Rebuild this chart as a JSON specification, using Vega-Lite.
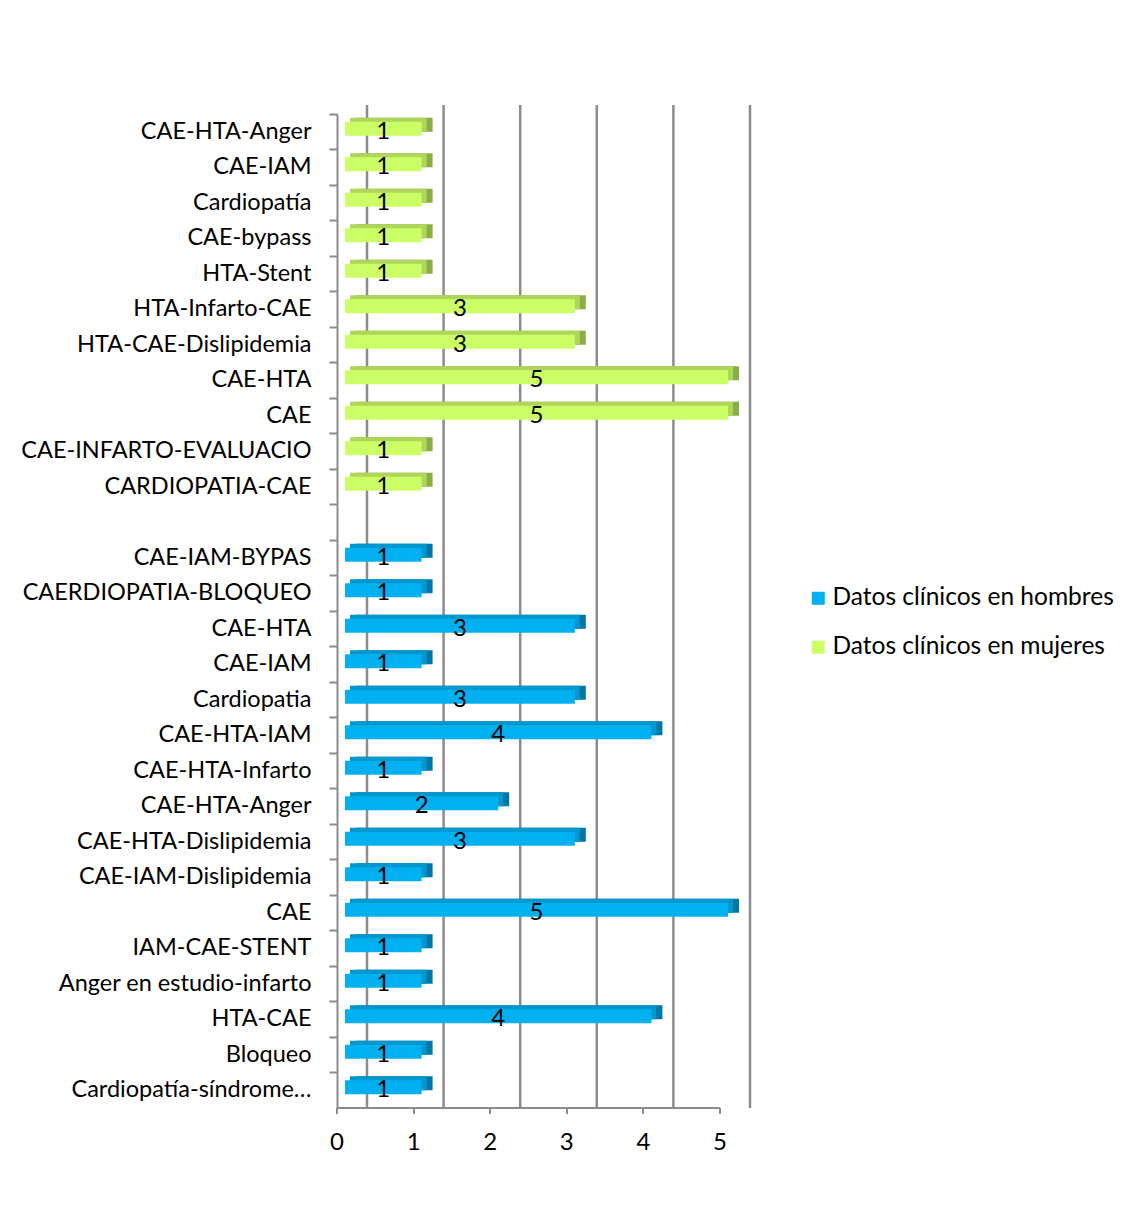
{
  "$schema": "https://vega.github.io/schema/vega-lite/v6.json",
  "width": 383,
  "height": 994,
  "autosize": {"type": "none"},
  "padding": {"left": 345, "top": 114, "right": 403, "bottom": 116},
  "background": "white",
  "config": {"view": {"stroke": null}, "font": "Lato"},
  "datasets": {
    "grid": [{"v": 0}, {"v": 1}, {"v": 2}, {"v": 3}, {"v": 4}, {"v": 5}]
  },
  "data": {
    "values": [
      {"cat": "m01|CAE-HTA-Anger", "group": "Datos clínicos en mujeres", "value": 1},
      {"cat": "m02|CAE-IAM", "group": "Datos clínicos en mujeres", "value": 1},
      {"cat": "m03|Cardiopatía", "group": "Datos clínicos en mujeres", "value": 1},
      {"cat": "m04|CAE-bypass", "group": "Datos clínicos en mujeres", "value": 1},
      {"cat": "m05|HTA-Stent", "group": "Datos clínicos en mujeres", "value": 1},
      {"cat": "m06|HTA-Infarto-CAE", "group": "Datos clínicos en mujeres", "value": 3},
      {"cat": "m07|HTA-CAE-Dislipidemia", "group": "Datos clínicos en mujeres", "value": 3},
      {"cat": "m08|CAE-HTA", "group": "Datos clínicos en mujeres", "value": 5},
      {"cat": "m09|CAE", "group": "Datos clínicos en mujeres", "value": 5},
      {"cat": "m10|CAE-INFARTO-EVALUACIO", "group": "Datos clínicos en mujeres", "value": 1},
      {"cat": "m11|CARDIOPATIA-CAE", "group": "Datos clínicos en mujeres", "value": 1},
      {"cat": "h01|CAE-IAM-BYPAS", "group": "Datos clínicos en hombres", "value": 1},
      {"cat": "h02|CAERDIOPATIA-BLOQUEO", "group": "Datos clínicos en hombres", "value": 1},
      {"cat": "h03|CAE-HTA", "group": "Datos clínicos en hombres", "value": 3},
      {"cat": "h04|CAE-IAM", "group": "Datos clínicos en hombres", "value": 1},
      {"cat": "h05|Cardiopatia", "group": "Datos clínicos en hombres", "value": 3},
      {"cat": "h06|CAE-HTA-IAM", "group": "Datos clínicos en hombres", "value": 4},
      {"cat": "h07|CAE-HTA-Infarto", "group": "Datos clínicos en hombres", "value": 1},
      {"cat": "h08|CAE-HTA-Anger", "group": "Datos clínicos en hombres", "value": 2},
      {"cat": "h09|CAE-HTA-Dislipidemia", "group": "Datos clínicos en hombres", "value": 3},
      {"cat": "h10|CAE-IAM-Dislipidemia", "group": "Datos clínicos en hombres", "value": 1},
      {"cat": "h11|CAE", "group": "Datos clínicos en hombres", "value": 5},
      {"cat": "h12|IAM-CAE-STENT", "group": "Datos clínicos en hombres", "value": 1},
      {"cat": "h13|Anger en estudio-infarto", "group": "Datos clínicos en hombres", "value": 1},
      {"cat": "h14|HTA-CAE", "group": "Datos clínicos en hombres", "value": 4},
      {"cat": "h15|Bloqueo", "group": "Datos clínicos en hombres", "value": 1},
      {"cat": "h16|Cardiopatía-síndrome…", "group": "Datos clínicos en hombres", "value": 1}
    ]
  },
  "resolve": {"scale": {"color": "independent"}},
  "layer": [
    {
      "data": {"name": "grid"},
      "mark": {"type": "rule", "color": "#8c8c8c", "strokeWidth": 2.5, "xOffset": 22, "yOffset": -9},
      "encoding": {
        "x": {"field": "v", "type": "quantitative", "scale": {"domain": [0, 5], "nice": false}}
      }
    },
    {
      "resolve": {"scale": {"color": "independent"}},
      "encoding": {
        "y": {
          "field": "cat",
          "type": "nominal",
          "sort": null,
          "scale": {
            "domain": ["m01|CAE-HTA-Anger", "m02|CAE-IAM", "m03|Cardiopatía", "m04|CAE-bypass", "m05|HTA-Stent", "m06|HTA-Infarto-CAE", "m07|HTA-CAE-Dislipidemia", "m08|CAE-HTA", "m09|CAE", "m10|CAE-INFARTO-EVALUACIO", "m11|CARDIOPATIA-CAE", "gap|", "h01|CAE-IAM-BYPAS", "h02|CAERDIOPATIA-BLOQUEO", "h03|CAE-HTA", "h04|CAE-IAM", "h05|Cardiopatia", "h06|CAE-HTA-IAM", "h07|CAE-HTA-Infarto", "h08|CAE-HTA-Anger", "h09|CAE-HTA-Dislipidemia", "h10|CAE-IAM-Dislipidemia", "h11|CAE", "h12|IAM-CAE-STENT", "h13|Anger en estudio-infarto", "h14|HTA-CAE", "h15|Bloqueo", "h16|Cardiopatía-síndrome…"],
            "paddingInner": 0,
            "paddingOuter": 0
          },
          "axis": {
            "title": null,
            "offset": 8,
            "domainColor": "#8c8c8c",
            "domainWidth": 2,
            "tickColor": "#8c8c8c",
            "tickWidth": 2,
            "tickSize": 8,
            "bandPosition": 0,
            "labelPadding": 18,
            "labelFontSize": 23.5,
            "labelColor": "black",
            "labelLimit": 400,
            "labelExpr": "split(datum.label, '|')[1]"
          }
        }
      },
      "layer": [
        {
          "mark": {"type": "bar", "height": 14, "xOffset": 11, "yOffset": -7},
          "encoding": {
            "x": {"field": "value", "type": "quantitative", "scale": {"domain": [0, 5], "nice": false}},
            "color": {
              "field": "group",
              "type": "nominal",
              "scale": {"domain": ["Datos clínicos en hombres", "Datos clínicos en mujeres"], "range": ["#0076A6", "#8AAE46"]},
              "legend": null
            }
          }
        },
        {
          "mark": {"type": "bar", "height": 14, "xOffset": 5, "yOffset": -7},
          "encoding": {
            "x": {"field": "value", "type": "quantitative", "scale": {"domain": [0, 5], "nice": false}},
            "color": {
              "field": "group",
              "type": "nominal",
              "scale": {"domain": ["Datos clínicos en hombres", "Datos clínicos en mujeres"], "range": ["#0096CE", "#AED65A"]},
              "legend": null
            }
          }
        },
        {
          "mark": {"type": "bar", "height": 14, "yOffset": -3},
          "encoding": {
            "x": {
              "field": "value",
              "type": "quantitative",
              "scale": {"domain": [0, 5], "nice": false},
              "axis": {
                "title": null,
                "values": [0, 1, 2, 3, 4, 5],
                "format": "d",
                "grid": false,
                "translate": -8,
                "offset": 8,
                "domainColor": "#8c8c8c",
                "domainWidth": 2,
                "tickColor": "#8c8c8c",
                "tickWidth": 2,
                "tickSize": 6,
                "labelFontSize": 24,
                "labelColor": "black",
                "labelPadding": 17,
                "labelFlush": false
              }
            },
            "color": {
              "field": "group",
              "type": "nominal",
              "scale": {"domain": ["Datos clínicos en hombres", "Datos clínicos en mujeres"], "range": ["#00B0F0", "#CCFF66"]},
              "legend": {
                "title": null,
                "orient": "none",
                "legendX": 461,
                "legendY": 472,
                "symbolType": "square",
                "symbolSize": 170,
                "symbolStrokeWidth": 0,
                "labelFontSize": 24.5,
                "labelColor": "black",
                "labelOffset": 2,
                "rowPadding": 24,
                "labelLimit": 400
              }
            }
          }
        },
        {
          "transform": [{"calculate": "datum.value / 2", "as": "mid"}],
          "mark": {"type": "text", "fontSize": 24, "color": "black", "baseline": "middle"},
          "encoding": {
            "x": {"field": "mid", "type": "quantitative", "scale": {"domain": [0, 5], "nice": false}},
            "text": {"field": "value", "type": "quantitative"}
          }
        }
      ]
    }
  ]
}
